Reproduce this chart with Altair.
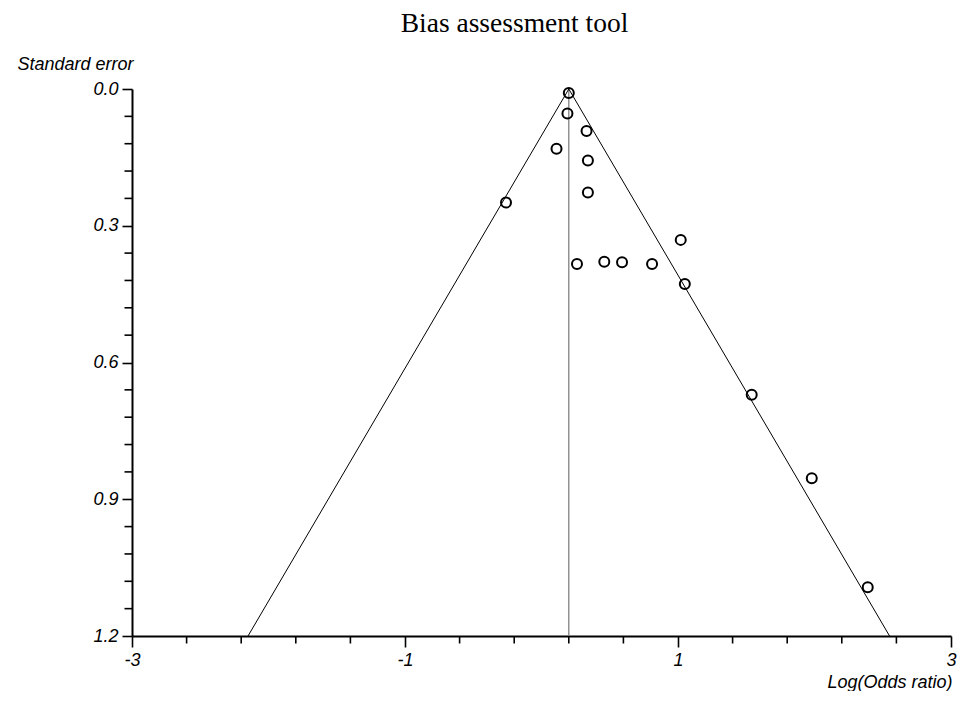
import altair as alt
import pandas as pd

# Study estimates
log_or = [0.20, 0.19, 0.33, 0.11, 0.34, 0.34, -0.26, 1.02, 0.26, 0.46, 0.59, 0.81, 1.05, 1.54, 1.98, 2.39]
std_err = [0.009, 0.054, 0.092, 0.131, 0.157, 0.227, 0.249, 0.331, 0.384, 0.379, 0.380, 0.384, 0.428, 0.671, 0.854, 1.093]

# Pooled estimate and funnel limits
pooled_x = [0.2]
pooled_se0 = [0.0]
pooled_se1 = [1.2]
funnel_x = [-2.15, 0.2, 2.55]
funnel_se = [1.2, 0.0, 1.2]
funnel_order = [0, 1, 2]

# Axis ticks
x_major = [-3, -1, 1, 3]
x_minor = [-2.6, -2.2, -1.8, -1.4, -0.6, -0.2, 0.2, 0.6, 1.4, 1.8, 2.2, 2.6]
y_major = [0, 0.3, 0.6, 0.9, 1.2]
y_minor = [0.06, 0.12, 0.18, 0.24, 0.36, 0.42, 0.48, 0.54, 0.66, 0.72,
           0.78, 0.84, 0.96, 1.02, 1.08, 1.14]

W, H = 819, 547

pts = pd.DataFrame({"lnor": log_or, "se": std_err})
pooled = pd.DataFrame({"x": pooled_x, "y": pooled_se0, "y2": pooled_se1})
funnel = pd.DataFrame({"x": funnel_x, "y": funnel_se, "o": funnel_order})
xmin_df = pd.DataFrame({"x": x_minor})
ymin_df = pd.DataFrame({"y": y_minor})

FONT = "Liberation Sans"

x_scale = alt.Scale(domain=[-3, 3], nice=False, zero=False)
y_scale = alt.Scale(domain=[0, 1.2], nice=False, zero=False, reverse=True)

x_axis = alt.Axis(
    values=x_major, tickSize=11, labelExpr="'' + datum.value",
    grid=False, domainColor="black", domainWidth=2, tickColor="black", tickWidth=1.6,
    labelFont=FONT, labelFontStyle="italic", labelFontSize=18, labelColor="black",
    labelPadding=4, labelFlush=False, labelOverlap=False, labelBaseline="top",
    title="Log(Odds ratio)", titleX=W + 1, titleY=51, titleAlign="right",
    titleBaseline="alphabetic", titleFont=FONT, titleFontStyle="italic",
    titleFontWeight="normal", titleFontSize=18, titleColor="black",
)
y_axis = alt.Axis(
    values=y_major, tickSize=10, format=".1f",
    grid=False, domainColor="black", domainWidth=2, tickColor="black", tickWidth=1.6,
    labelFont=FONT, labelFontStyle="italic", labelFontSize=18, labelColor="black",
    labelPadding=4, labelFlush=False, labelOverlap=False, labelBaseline="middle",
    title="Standard error", titleAngle=0, titleX=1, titleY=-20, titleAlign="right",
    titleBaseline="alphabetic", titleFont=FONT, titleFontStyle="italic",
    titleFontWeight="normal", titleFontSize=18, titleColor="black",
)

vline = alt.Chart(pooled).mark_rule(color="#808080", strokeWidth=1.3).encode(
    x=alt.X("x:Q", scale=x_scale, axis=x_axis),
    y=alt.Y("y:Q", scale=y_scale, axis=y_axis),
    y2="y2:Q",
)

x_minor_ticks = alt.Chart(xmin_df).mark_rule(color="black", strokeWidth=1.6).encode(
    x=alt.X("x:Q", scale=x_scale),
    y=alt.value(H),
    y2=alt.value(H + 7.5),
)

y_minor_ticks = alt.Chart(ymin_df).mark_rule(color="black", strokeWidth=1.6).encode(
    y=alt.Y("y:Q", scale=y_scale),
    x=alt.value(0),
    x2=alt.value(-7.5),
)

funnel_line = alt.Chart(funnel).mark_line(color="black", strokeWidth=1).encode(
    x=alt.X("x:Q", scale=x_scale),
    y=alt.Y("y:Q", scale=y_scale),
    order="o:Q",
)

points = alt.Chart(pts).mark_point(
    shape="circle", filled=False, color="black", strokeWidth=2, size=100, opacity=1
).encode(
    x=alt.X("lnor:Q", scale=x_scale),
    y=alt.Y("se:Q", scale=y_scale),
)

chart = alt.layer(vline, x_minor_ticks, y_minor_ticks, funnel_line, points).properties(
    width=W,
    height=H,
    autosize=alt.AutoSizeParams(type="none"),
    padding={"left": 124, "top": 81, "right": 6, "bottom": 55},
    title=alt.TitleParams(
        "Bias assessment tool", font="Liberation Serif", fontSize=27.5,
        fontWeight="normal", color="black", anchor="middle", frame="group",
        dx=-27, dy=14, baseline="alphabetic", offset=10,
    ),
    background="white",
).configure_view(stroke=None)

chart.save("out.html", embed_options={"renderer": "svg", "actions": False})
